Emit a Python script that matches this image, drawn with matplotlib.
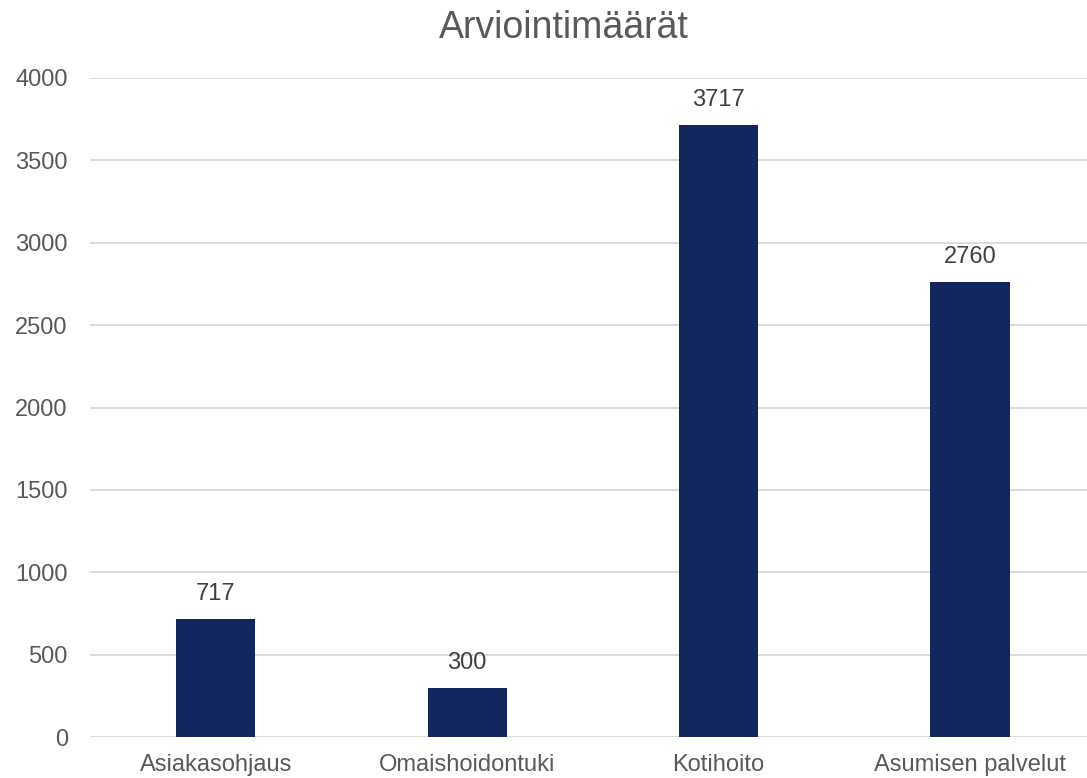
import matplotlib.pyplot as plt

categories = ["Asiakasohjaus", "Omaishoidontuki", "Kotihoito", "Asumisen palvelut"]
values = [717, 300, 3717, 2760]
yticks = [0, 500, 1000, 1500, 2000, 2500, 3000, 3500, 4000]

plt.rcParams['font.family'] = ['Liberation Sans', 'DejaVu Sans']

fig = plt.figure(figsize=(10.87, 7.78), dpi=100)
W, H = 1087, 778
ax = fig.add_axes([90 / W, 41 / H, (1087 - 90) / W, 659 / H])

x = range(len(categories))
bars = ax.bar(x, values, width=0.315, color='#12275E', zorder=3)

ax.set_xlim(-0.5, 3.5 - 8.6 / 251)
ax.set_ylim(0, 4000)
ax.set_yticks(yticks)
ax.set_xticks(list(x))
ax.set_xticklabels(categories)
ax.grid(axis='y', color='#d9d9d9', linewidth=1.3, zorder=0)
ax.tick_params(axis='both', length=0, labelsize=17, colors='#595959')
ax.tick_params(axis='y', pad=16)
ax.tick_params(axis='x', pad=12)
for s in ax.spines.values():
    s.set_visible(False)

for b, v in zip(bars, values):
    ax.annotate(str(v), (b.get_x() + b.get_width() / 2, v), xytext=(0, 10),
                textcoords='offset points', ha='center', va='bottom',
                fontsize=17, color='#404040')

# title sits a bit right of the figure centre
fig.text(564 / W, 1 - 28 / H, "Arviointimäärät", ha='center', va='center',
         fontsize=27, color='#595959')

fig.savefig("out.png", dpi=100)
